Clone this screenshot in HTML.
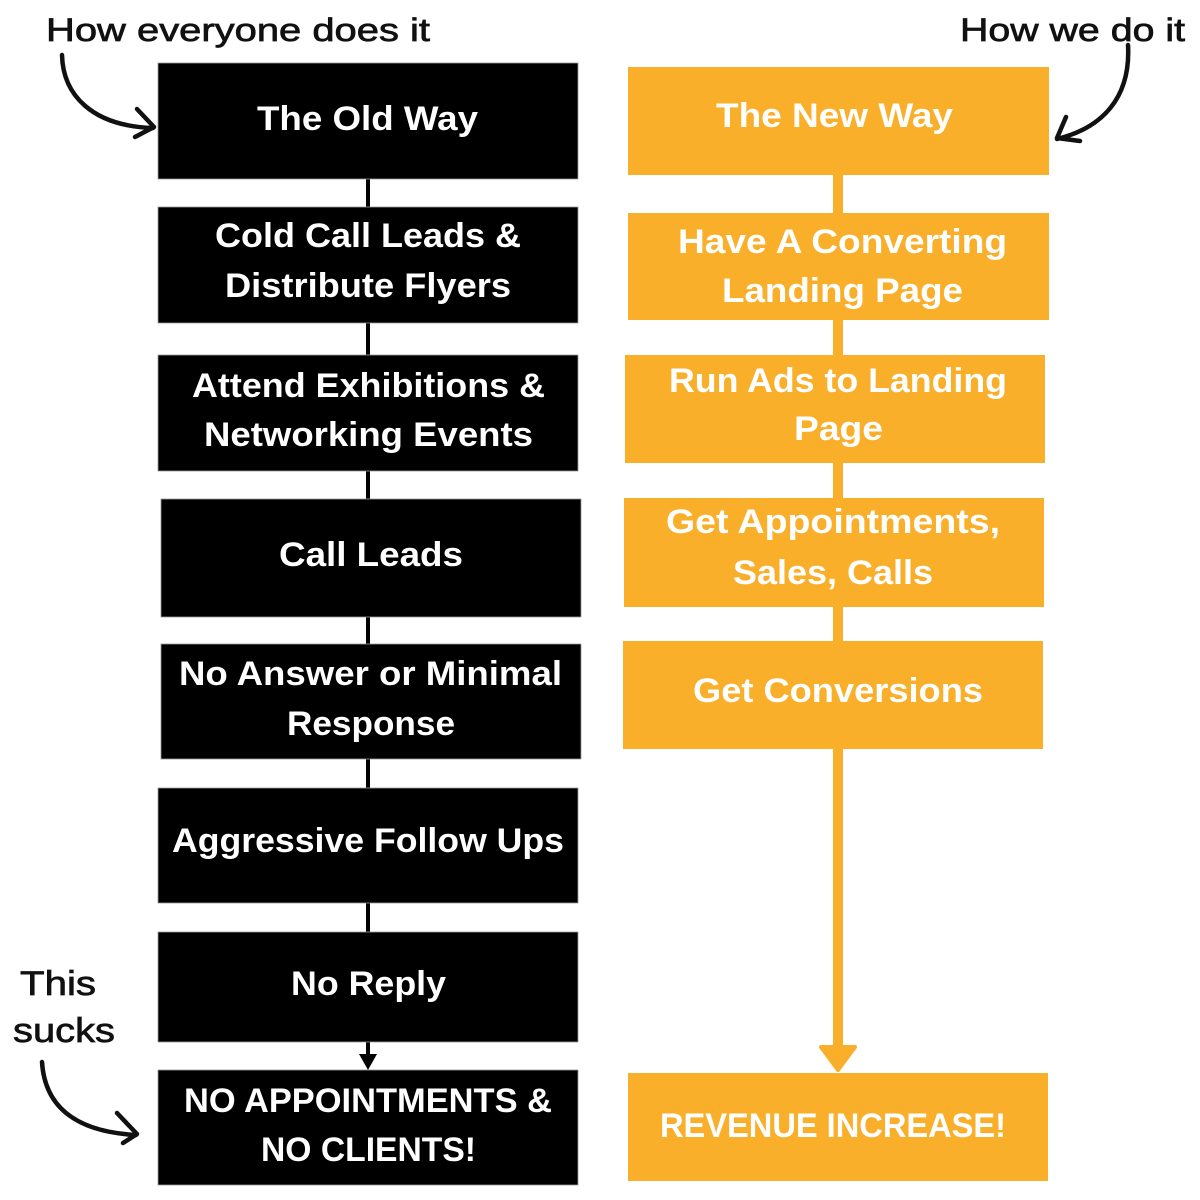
<!DOCTYPE html>
<html>
<head>
<meta charset="utf-8">
<style>
  html, body { margin: 0; padding: 0; background: #ffffff; }
  body { width: 1200px; height: 1200px; overflow: hidden; }
  svg { display: block; }
  .lbl { font-family: "Liberation Sans", Arial, sans-serif; font-weight: bold; font-size: 34px; fill: #ffffff; }
  .hand { font-family: "Liberation Sans", Arial, sans-serif; font-weight: normal; fill: #111111; stroke: #111111; stroke-width: 0.7px; }
</style>
</head>
<body>
<svg width="1200" height="1200" viewBox="0 0 1200 1200" xmlns="http://www.w3.org/2000/svg">
  <rect x="0" y="0" width="1200" height="1200" fill="#ffffff"/>

  <!-- LEFT connectors -->
  <g fill="#000000">
    <rect x="366" y="178" width="4" height="30"/>
    <rect x="366" y="322" width="4" height="34"/>
    <rect x="366" y="470" width="4" height="30"/>
    <rect x="366" y="616" width="4" height="29"/>
    <rect x="366" y="758" width="4" height="31"/>
    <rect x="366" y="902" width="4" height="31"/>
    <rect x="366" y="1041" width="4" height="15"/>
    <polygon points="359,1054 377,1054 368,1070"/>
  </g>

  <!-- LEFT boxes -->
  <g fill="#000000" stroke="#9a9a9a" stroke-width="0.8">
    <rect x="158" y="63" width="420" height="116"/>
    <rect x="158" y="207" width="420" height="116"/>
    <rect x="158" y="355" width="420" height="116"/>
    <rect x="161" y="499" width="420" height="118"/>
    <rect x="161" y="644" width="420" height="115"/>
    <rect x="158" y="788" width="420" height="115"/>
    <rect x="158" y="932" width="420" height="110"/>
    <rect x="158" y="1070" width="420" height="115"/>
  </g>

  <!-- LEFT labels -->
  <g class="lbl">
    <text class="lbl" x="257" y="130" textLength="221" lengthAdjust="spacingAndGlyphs">The Old Way</text>
    <text class="lbl" x="215" y="247" textLength="306" lengthAdjust="spacingAndGlyphs">Cold Call Leads &amp;</text>
    <text class="lbl" x="225" y="297" textLength="286" lengthAdjust="spacingAndGlyphs">Distribute Flyers</text>
    <text class="lbl" x="192" y="397" textLength="353" lengthAdjust="spacingAndGlyphs">Attend Exhibitions &amp;</text>
    <text class="lbl" x="204" y="446" textLength="329" lengthAdjust="spacingAndGlyphs">Networking Events</text>
    <text class="lbl" x="279" y="566" textLength="184" lengthAdjust="spacingAndGlyphs">Call Leads</text>
    <text class="lbl" x="179" y="685" textLength="383" lengthAdjust="spacingAndGlyphs">No Answer or Minimal</text>
    <text class="lbl" x="287" y="735" textLength="168" lengthAdjust="spacingAndGlyphs">Response</text>
    <text class="lbl" x="172" y="852" textLength="392" lengthAdjust="spacingAndGlyphs">Aggressive Follow Ups</text>
    <text class="lbl" x="291" y="995" textLength="155" lengthAdjust="spacingAndGlyphs">No Reply</text>
    <text class="lbl" x="184" y="1112" textLength="368" lengthAdjust="spacingAndGlyphs">NO APPOINTMENTS &amp;</text>
    <text class="lbl" x="261" y="1161" textLength="215" lengthAdjust="spacingAndGlyphs">NO CLIENTS!</text>
  </g>

  <!-- RIGHT connectors -->
  <g fill="#FAAF2A">
    <rect x="833" y="174" width="10" height="40"/>
    <rect x="833" y="319" width="10" height="37"/>
    <rect x="833" y="462" width="10" height="37"/>
    <rect x="833" y="606" width="10" height="36"/>
    <rect x="833" y="748" width="10" height="302"/>
  </g>
  <polygon points="821,1047 855,1047 838,1070" fill="#FAAF2A" stroke="#FAAF2A" stroke-width="4" stroke-linejoin="round"/>

  <!-- RIGHT boxes -->
  <g fill="#FAAF2A">
    <rect x="628" y="67" width="421" height="108"/>
    <rect x="628" y="213" width="421" height="107"/>
    <rect x="625" y="355" width="420" height="108"/>
    <rect x="624" y="498" width="420" height="109"/>
    <rect x="623" y="641" width="420" height="108"/>
    <rect x="628" y="1073" width="420" height="108"/>
  </g>

  <!-- RIGHT labels -->
  <g>
    <text class="lbl" x="716" y="127" textLength="237" lengthAdjust="spacingAndGlyphs">The New Way</text>
    <text class="lbl" x="678" y="253" textLength="329" lengthAdjust="spacingAndGlyphs">Have A Converting</text>
    <text class="lbl" x="722" y="302" textLength="241" lengthAdjust="spacingAndGlyphs">Landing Page</text>
    <text class="lbl" x="669" y="392" textLength="338" lengthAdjust="spacingAndGlyphs">Run Ads to Landing</text>
    <text class="lbl" x="794" y="440" textLength="89" lengthAdjust="spacingAndGlyphs">Page</text>
    <text class="lbl" x="666" y="533" textLength="334" lengthAdjust="spacingAndGlyphs">Get Appointments,</text>
    <text class="lbl" x="733" y="584" textLength="200" lengthAdjust="spacingAndGlyphs">Sales, Calls</text>
    <text class="lbl" x="693" y="702" textLength="290" lengthAdjust="spacingAndGlyphs">Get Conversions</text>
    <text class="lbl" x="660" y="1137" textLength="346" lengthAdjust="spacingAndGlyphs">REVENUE INCREASE!</text>
  </g>

  <!-- Handwritten annotations -->
  <text class="hand" x="46" y="41" font-size="32" textLength="384" lengthAdjust="spacingAndGlyphs">How everyone does it</text>
  <text class="hand" x="960" y="41" font-size="32" textLength="225" lengthAdjust="spacingAndGlyphs">How we do it</text>
  <text class="hand" x="20" y="995" font-size="34" textLength="76" lengthAdjust="spacingAndGlyphs">This</text>
  <text class="hand" x="13" y="1042" font-size="34" textLength="102" lengthAdjust="spacingAndGlyphs">sucks</text>

  <!-- Hand-drawn arrows -->
  <g fill="none" stroke="#111111" stroke-width="4.5" stroke-linecap="round" stroke-linejoin="round">
    <path d="M62,55 C63,95 92,126 153,128"/>
    <path d="M137,109 L154,127 L135,137"/>

    <path d="M1128,45 C1131,98 1102,128 1057,139"/>
    <path d="M1066,117 L1057,138 L1080,141"/>

    <path d="M42,1062 C45,1110 80,1132 136,1135"/>
    <path d="M117,1113 L137,1134 L123,1143"/>
  </g>
</svg>
</body>
</html>
